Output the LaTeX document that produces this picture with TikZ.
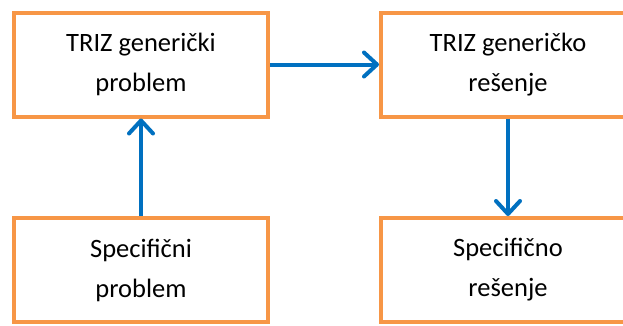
\documentclass[tikz,border=0pt]{standalone}
\usepackage{fontspec}
\setmainfont{Carlito}
\usetikzlibrary{arrows.meta}
\definecolor{boxorange}{HTML}{F79646}
\definecolor{arrowblue}{HTML}{0070C0}
\begin{document}
\begin{tikzpicture}[x=1pt,y=-1pt,
  box/.style={draw=boxorange, line width=4pt, fill=white, minimum width=254pt, minimum height=104pt, inner sep=0pt, align=center, font=\fontsize{26.5}{40}\selectfont},
  conn/.style={draw=arrowblue, line width=4pt, -{Straight Barb[length=13pt,width=24pt,line width=4pt,round]}}
]
\clip (0,0) rectangle (623,325);
\fill[white] (0,0) rectangle (623,325);
\node[box] (tl) at (141,64.5) {TRIZ generički\\problem};
\node[box] (tr) at (508,64.5) {TRIZ generičko\\rešenje};
\node[box] (bl) at (141,270) {Specifični\\problem};
\node[box] (br) at (508,270) {Specifično\\rešenje};
\draw[conn] (tl.east) -- (tr.west);
\draw[conn] (bl.north) -- (tl.south);
\draw[conn] (tr.south) -- (br.north);
\end{tikzpicture}
\end{document}
